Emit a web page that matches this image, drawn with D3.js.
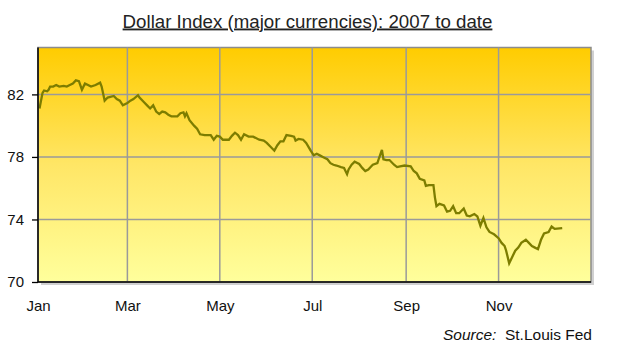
<!DOCTYPE html>
<html>
<head>
<meta charset="utf-8">
<script src="https://cdn.jsdelivr.net/npm/d3@7"></script>
<style>
    body { margin: 0; background: #fff; }
    svg { display: block; font-family: "Liberation Sans", Arial, sans-serif; }
</style>
</head>
<body>
<svg width="620" height="346"></svg>
<script>
const WIDTH = 620
const HEIGHT = 346

// day of year (0 = 1 Jan 2007) and index value
const days = [1, 2, 3, 4, 6, 7, 8, 10, 12, 14, 17, 19, 21, 23, 25, 27, 29, 31, 33, 35, 38, 41, 42, 44, 46, 50, 52, 54, 56, 59,
    61, 63, 66, 67, 70, 72, 74, 76, 78, 80, 82, 84, 86, 88, 92, 94, 96, 97, 98, 100, 103, 105, 107, 110, 114, 116, 118, 120,
    122, 126, 128, 130, 132, 134, 136, 139, 142, 146, 149, 151, 153, 156, 158, 160, 162, 164, 167, 169, 170, 172, 175, 177,
    180, 182, 184, 186, 188, 191, 193, 195, 197, 200, 202, 204, 205, 207, 209, 212, 214, 216, 218, 220, 221, 224, 225, 227,
    228, 230, 232, 235, 237, 239, 242, 246, 248, 250, 252, 255, 256, 258, 261, 262, 263, 265, 268, 270, 272, 274, 276, 278,
    281, 283, 285, 288, 290, 292, 294, 296, 298, 301, 304, 306, 308, 309, 311, 313, 315, 317, 319, 322, 324, 326, 328, 330,
    332, 334, 337, 339, 341, 346]
const values = [81.1, 81.6, 82.1, 82.25, 82.2, 82.3, 82.5, 82.5, 82.6, 82.5, 82.55, 82.5, 82.6, 82.7, 82.9, 82.85, 82.3,
    82.7, 82.6, 82.5, 82.6, 82.75, 82.5, 81.6, 81.8, 81.9, 81.7, 81.6, 81.3, 81.45,
    81.6, 81.7, 81.95, 81.8, 81.5, 81.3, 81.1, 81.3, 80.9, 80.75, 80.9, 80.85, 80.7, 80.6, 80.6, 80.8, 80.85, 80.6, 80.8,
    80.35, 80.0, 79.8, 79.45, 79.4, 79.4, 79.1, 79.35, 79.3,
    79.1, 79.1, 79.35, 79.55, 79.4, 79.1, 79.45, 79.3, 79.3, 79.1, 79.05, 78.9, 78.7, 78.4, 78.75, 79.0, 79.0, 79.4, 79.35,
    79.3, 79.05, 79.15, 79.1, 78.9,
    78.4, 78.1, 78.2, 78.1, 78.0, 77.85, 77.6, 77.5, 77.45, 77.35, 77.3, 76.9, 77.2, 77.5, 77.7, 77.55, 77.3, 77.1, 77.2,
    77.4, 77.5, 77.6, 77.9, 78.45,
    77.85, 77.8, 77.8, 77.5, 77.35, 77.4, 77.45, 77.4, 77.1, 76.95, 76.6, 76.5, 76.15, 76.2, 76.2, 75.4, 74.85, 75.0, 74.9,
    74.5, 74.55, 74.85, 74.4, 74.4,
    74.7, 74.25, 74.2, 74.35, 74.2, 73.6, 74.1, 73.5, 73.2, 73.05, 72.8, 72.5, 72.3, 72.0, 71.2, 71.6, 72.0, 72.2, 72.5,
    72.7, 72.5, 72.3, 72.2, 72.1,
    72.7, 73.1, 73.2, 73.55, 73.4, 73.45]

const yTicks = [70, 74, 78, 82]
const monthLabels = ['Jan', 'Mar', 'May', 'Jul', 'Sep', 'Nov']
const monthIndex = [0, 2, 4, 6, 8, 10]

const title = 'Dollar Index (major currencies): 2007 to date'
const sourceLabel = 'Source:'
const sourceName = 'St.Louis Fed'

const margin = {top: 47.5, right: 29, bottom: 64, left: 38}

const data = days.map((d, i) => ({date: new Date(2007, 0, 1 + d), value: values[i]}))

const svg = d3.select('svg')

const x = d3.scaleTime()
    .domain([new Date(2007, 0, 1), new Date(2008, 0, 1)])
    .range([margin.left, WIDTH - margin.right])

const y = d3.scaleLinear()
    .domain([70, 85])
    .range([HEIGHT - margin.bottom, margin.top])

const defs = svg.append('defs')
const grad = defs.append('linearGradient')
    .attr('id', 'bg')
    .attr('x1', 0).attr('y1', 0).attr('x2', 0).attr('y2', 1)
grad.append('stop').attr('offset', '0%').attr('stop-color', '#ffcc00')
grad.append('stop').attr('offset', '50%').attr('stop-color', '#ffe666')
grad.append('stop').attr('offset', '100%').attr('stop-color', '#ffff9c')

// shadow + plot background
svg.append('rect')
    .attr('x', x.range()[0] + 3)
    .attr('y', y.range()[1] + 3)
    .attr('width', x.range()[1] - x.range()[0])
    .attr('height', y.range()[0] - y.range()[1])
    .attr('fill', '#d0d0d0')

svg.append('rect')
    .attr('x', x.range()[0])
    .attr('y', y.range()[1])
    .attr('width', x.range()[1] - x.range()[0])
    .attr('height', y.range()[0] - y.range()[1])
    .attr('fill', 'url(#bg)')
    .attr('stroke', '#8c8c8c')
    .attr('stroke-width', 1.5)

const monthDates = monthIndex.map(m => new Date(2007, m, 1))

// grid
svg.append('g')
    .attr('stroke', '#9a9a9a')
    .attr('stroke-width', 1.5)
    .selectAll('line.h')
    .data(yTicks.slice(1))
    .enter().append('line')
    .attr('x1', x.range()[0])
    .attr('x2', x.range()[1])
    .attr('y1', d => y(d))
    .attr('y2', d => y(d))

svg.append('g')
    .attr('stroke', '#9a9a9a')
    .attr('stroke-width', 1.5)
    .selectAll('line.v')
    .data(monthDates.slice(1))
    .enter().append('line')
    .attr('x1', d => x(d))
    .attr('x2', d => x(d))
    .attr('y1', y.range()[0])
    .attr('y2', y.range()[1])

// series
const line = d3.line()
    .x(d => x(d.date))
    .y(d => y(d.value))

svg.append('path')
    .datum(data)
    .attr('fill', 'none')
    .attr('stroke', '#7d7d00')
    .attr('stroke-width', 2.3)
    .attr('stroke-linejoin', 'miter')
    .attr('d', line)

// axes
const yAxis = svg.append('g')
    .attr('transform', `translate(${margin.left},0)`)
    .call(d3.axisLeft(y).tickValues(yTicks).tickSize(6).tickPadding(8).tickFormat(d3.format('d')))
yAxis.select('.domain').remove()
yAxis.selectAll('line').attr('stroke', '#000').attr('stroke-width', 1.3)
yAxis.selectAll('text').attr('font-size', 15).attr('fill', '#111').attr('font-family', null)

const xAxis = svg.append('g')
    .attr('transform', `translate(0,${HEIGHT - margin.bottom})`)
    .call(d3.axisBottom(x).tickValues(monthDates).tickSize(0).tickPadding(18)
        .tickFormat((d, i) => monthLabels[i]))
xAxis.select('.domain').remove()
xAxis.selectAll('text').attr('font-size', 15).attr('fill', '#111').attr('font-family', null)

svg.append('line')
    .attr('x1', x.range()[0]).attr('x2', x.range()[0])
    .attr('y1', y.range()[1]).attr('y2', y.range()[0])
    .attr('stroke', '#000').attr('stroke-width', 1.5)
svg.append('line')
    .attr('x1', x.range()[0]).attr('x2', x.range()[1])
    .attr('y1', y.range()[0]).attr('y2', y.range()[0])
    .attr('stroke', '#000').attr('stroke-width', 1.5)

// title
const t = svg.append('text')
    .attr('x', 307.5)
    .attr('y', 27.5)
    .attr('text-anchor', 'middle')
    .attr('font-size', 18.7)
    .attr('fill', '#222')
    .attr('text-decoration', 'underline')
    .text(title)

// source
const src = svg.append('text')
    .attr('x', 592)
    .attr('y', 340)
    .attr('text-anchor', 'end')
    .attr('font-size', 15.5)
    .attr('fill', '#111')
src.append('tspan').attr('font-style', 'italic').text(sourceLabel)
src.append('tspan').text('\u00a0 ' + sourceName)
</script>
</body>
</html>
